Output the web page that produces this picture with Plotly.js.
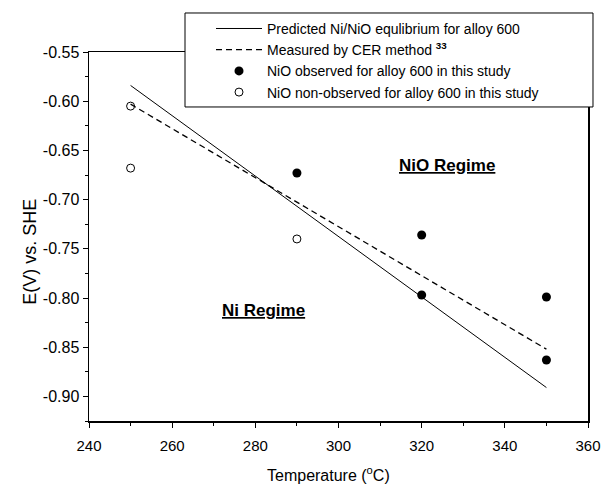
<!DOCTYPE html>
<html>
<head>
<meta charset="utf-8">
<script src="https://cdn.plot.ly/plotly-3.0.1.min.js"></script>
<style>html,body{margin:0;padding:0;background:#fff}#chart{width:601px;height:485px}</style>
</head>
<body>
<div id="chart"></div>
<script>
// Data
const lineT = [250, 350];
const predicted = [-0.584, -0.891];
const measured = [-0.603, -0.852];
const obsT = [290, 320, 320, 350, 350];
const obsE = [-0.673, -0.736, -0.797, -0.799, -0.863];
const nonT = [250, 250, 290];
const nonE = [-0.605, -0.668, -0.740];
const seriesNames = [
  'Predicted Ni/NiO equlibrium for alloy 600',
  'Measured by CER method <sup><b>33</b></sup>',
  'NiO observed for alloy 600 in this study',
  'NiO non-observed for alloy 600 in this study'
];
const yTickVals = [-0.90, -0.85, -0.80, -0.75, -0.70, -0.65, -0.60, -0.55];
const yTickText = ['-0.90', '-0.85', '-0.80', '-0.75', '-0.70', '-0.65', '-0.60', '-0.55'];
const regimeLabels = ['NiO Regime', 'Ni Regime'];
const regimeT = [326, 282];
const regimeE = [-0.665, -0.813];

const FONT = 'Liberation Sans, Arial, Helvetica, sans-serif';

const traces = [
  {x: lineT, y: predicted, mode: 'lines', name: seriesNames[0],
   line: {color: '#000', width: 1}},
  {x: lineT, y: measured, mode: 'lines', name: seriesNames[1],
   line: {color: '#000', width: 1.3, dash: '6px,4px'}},
  {x: obsT, y: obsE, mode: 'markers', name: seriesNames[2],
   marker: {symbol: 'circle', size: 9, color: '#000'}},
  {x: nonT, y: nonE, mode: 'markers', name: seriesNames[3],
   marker: {symbol: 'circle-open', size: 8, color: '#000', line: {width: 1, color: '#000'}}}
];

const layout = {
  width: 601, height: 485,
  margin: {l: 89, r: 13, t: 52, b: 64},
  paper_bgcolor: '#fff', plot_bgcolor: '#fff',
  font: {family: FONT, color: '#000', size: 14},
  showlegend: true,
  legend: {x: 0.2445, y: 1.106, xanchor: 'left', yanchor: 'top',
    bgcolor: 'rgba(0,0,0,0)', borderwidth: 0,
    font: {family: FONT, size: 14, color: '#000'}, itemwidth: 46, tracegroupgap: 0},
  xaxis: {
    range: [240, 360], dtick: 20, tick0: 240,
    ticks: 'outside', ticklen: 5, tickwidth: 1, tickcolor: '#000',
    minor: {dtick: 10, ticks: 'outside', ticklen: 3, tickcolor: '#000', showgrid: false},
    showline: true, linecolor: '#000', linewidth: 1.5, mirror: true,
    showgrid: false, zeroline: false, ticklabelstandoff: 5,
    tickfont: {family: FONT, size: 15}
  },
  xaxis2: {
    overlaying: 'x', side: 'top', anchor: 'y', matches: 'x',
    range: [240, 360], dtick: 20, tick0: 240,
    ticks: 'inside', ticklen: 5, tickcolor: '#000', showticklabels: false,
    minor: {dtick: 10, ticks: 'inside', ticklen: 3, tickcolor: '#000', showgrid: false},
    showgrid: false, zeroline: false, showline: false
  },
  yaxis: {
    range: [-0.925, -0.55],
    tickmode: 'array', tickvals: yTickVals, ticktext: yTickText,
    ticks: 'outside', ticklen: 5, tickwidth: 1, tickcolor: '#000',
    minor: {dtick: 0.025, tick0: -0.55, ticks: 'outside', ticklen: 3, tickcolor: '#000', showgrid: false},
    showline: true, linecolor: '#000', linewidth: 1.5, mirror: true,
    showgrid: false, zeroline: false,
    tickfont: {family: FONT, size: 16}
  },
  shapes: [{
    type: 'rect', xref: 'paper', yref: 'paper',
    x0: 0.1924, x1: 1.010, y0: 0.851, y1: 1.1057,
    line: {color: '#000', width: 1}, fillcolor: '#fff', layer: 'above'
  }],
  annotations: regimeLabels.map((t, i) => ({
    x: regimeT[i], y: regimeE[i], xref: 'x', yref: 'y',
    text: '<b><u>' + t + '</u></b>', showarrow: false,
    font: {family: FONT, size: 17, color: '#000'}
  })).concat([
    {text: 'Temperature (<sup>o</sup>C)', xref: 'paper', yref: 'paper',
     x: 0.479, y: -0.1436, xanchor: 'center', yanchor: 'middle', showarrow: false,
     font: {family: FONT, size: 16, color: '#000'}},
    {text: 'E(V) vs. SHE', xref: 'paper', yref: 'y', textangle: -90,
     x: -0.118, y: -0.753, xanchor: 'center', yanchor: 'middle', showarrow: false,
     font: {family: FONT, size: 18, color: '#000'}}
  ])
};

Plotly.newPlot('chart', traces, layout, {displayModeBar: false, staticPlot: true});
</script>
</body>
</html>
